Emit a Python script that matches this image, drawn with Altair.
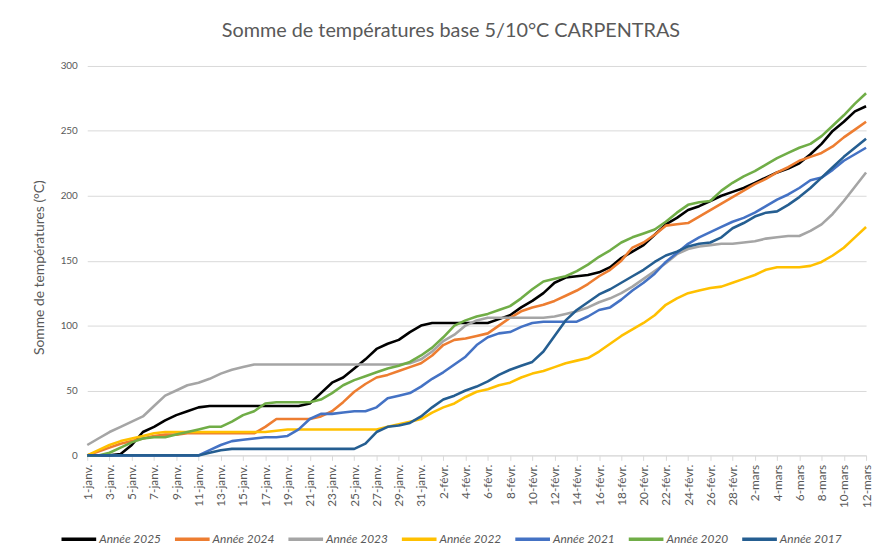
import altair as alt
import pandas as pd

# ---- data -------------------------------------------------------------
months = [("janv.", 31), ("févr.", 28), ("mars", 12)]
jours = [f"{d}-{m}" for m, n in months for d in range(1, n + 1)]
tick_labels = jours[::2]

annee_2025 = [0, 0, 0, 1, 8, 18, 22, 27, 31, 34, 37, 38, 38, 38, 38, 38, 38, 38, 38, 38,
              40, 48, 56, 60, 67, 74, 82, 86, 89, 95, 100, 102, 102, 102, 102, 102, 102, 105, 108, 114,
              119, 125, 133, 137, 138, 139, 141, 145, 152, 157, 162, 170, 178, 183, 189, 192, 196, 200, 203, 206,
              210, 214, 218, 221, 225, 232, 240, 250, 257, 265, 269]
annee_2024 = [0, 3, 6, 9, 11, 13, 15, 16, 16, 17, 17, 17, 17, 17, 17, 17, 22, 28, 28, 28,
              28, 30, 34, 41, 49, 55, 60, 62, 65, 68, 71, 77, 85, 89, 90, 92, 94, 100, 106, 111,
              114, 116, 119, 123, 127, 132, 138, 143, 150, 160, 164, 170, 177, 178, 179, 184, 189, 194, 199, 204,
              209, 213, 218, 222, 227, 230, 233, 238, 245, 251, 257]
annee_2023 = [8, 13, 18, 22, 26, 30, 38, 46, 50, 54, 56, 59, 63, 66, 68, 70, 70, 70, 70, 70,
              70, 70, 70, 70, 70, 70, 70, 70, 70, 71, 74, 80, 88, 93, 100, 104, 106, 106, 106, 106,
              106, 106, 107, 109, 111, 114, 118, 121, 125, 130, 136, 142, 148, 155, 159, 161, 162, 163, 163, 164,
              165, 167, 168, 169, 169, 173, 178, 186, 196, 207, 218]
annee_2022 = [0, 4, 8, 11, 13, 15, 17, 18, 18, 18, 18, 18, 18, 18, 18, 18, 18, 19, 20, 20,
              20, 20, 20, 20, 20, 20, 20, 22, 24, 26, 28, 33, 37, 40, 45, 49, 51, 54, 56, 60,
              63, 65, 68, 71, 73, 75, 80, 86, 92, 97, 102, 108, 116, 121, 125, 127, 129, 130, 133, 136,
              139, 143, 145, 145, 145, 146, 149, 154, 160, 168, 176]
annee_2021 = [0, 0, 0, 0, 0, 0, 0, 0, 0, 0, 0, 4, 8, 11, 12, 13, 14, 14, 15, 20,
              28, 32, 32, 33, 34, 34, 37, 44, 46, 48, 53, 59, 64, 70, 76, 85, 91, 94, 95, 99,
              102, 103, 103, 103, 103, 107, 112, 114, 120, 127, 133, 140, 149, 156, 163, 168, 172, 176, 180, 183,
              187, 192, 197, 201, 206, 212, 214, 220, 227, 232, 237]
annee_2020 = [0, 0, 2, 6, 10, 13, 14, 14, 16, 18, 20, 22, 22, 26, 31, 34, 40, 41, 41, 41,
              41, 43, 48, 54, 58, 61, 64, 67, 69, 72, 77, 83, 91, 100, 104, 107, 109, 112, 115, 121,
              128, 134, 136, 138, 142, 147, 153, 158, 164, 168, 171, 174, 180, 187, 193, 195, 196, 204, 210, 215,
              219, 224, 229, 233, 237, 240, 246, 254, 262, 271, 279]
annee_2017 = [0, 0, 0, 0, 0, 0, 0, 0, 0, 0, 0, 2, 4, 5, 5, 5, 5, 5, 5, 5,
              5, 5, 5, 5, 5, 9, 18, 22, 23, 25, 30, 37, 43, 46, 50, 53, 57, 62, 66, 69,
              72, 80, 92, 104, 112, 118, 124, 128, 133, 138, 143, 149, 154, 157, 161, 163, 164, 168, 175, 179,
              184, 187, 188, 193, 199, 206, 214, 222, 230, 237, 244]

series_names = ["Année 2025", "Année 2024", "Année 2023", "Année 2022",
                "Année 2021", "Année 2020", "Année 2017"]
series_values = [annee_2025, annee_2024, annee_2023, annee_2022,
                 annee_2021, annee_2020, annee_2017]
series_colors = ["#000000", "#ED7D31", "#A5A5A5", "#FFC000",
                 "#4472C4", "#70AD47", "#255E91"]

rows = []
for k, (name, vals) in enumerate(zip(series_names, series_values)):
    for i, (j, v) in enumerate(zip(jours, vals)):
        rows.append({"jour": j, "valeur": v, "serie": name, "ordre": k, "idx": i})
df = pd.DataFrame(rows)

FONT = "Lato"
GREY = "#595959"

chart = alt.Chart(df).mark_line(strokeWidth=2.6, strokeJoin="round").encode(
    x=alt.X("jour:O", sort=jours, title=None,
            scale=alt.Scale(padding=0),
            axis=alt.Axis(values=tick_labels, labelAngle=270, labelFontSize=12,
                          labelColor=GREY, labelFont=FONT, labelPadding=4,
                          domainColor="#D9D9D9", tickColor="#D9D9D9", tickSize=5,
                          grid=False, labelOverlap=False)),
    y=alt.Y("valeur:Q", scale=alt.Scale(domain=[0, 300], nice=False),
            title="Somme de températures (°C)",
            axis=alt.Axis(values=[0, 50, 100, 150, 200, 250, 300], labelFontSize=10,
                          labelColor=GREY, labelFont=FONT, labelPadding=10,
                          domain=False, ticks=False, gridColor="#D9D9D9", gridWidth=1,
                          titleFont=FONT, titleFontSize=14, titleFontWeight="normal",
                          titleColor=GREY, titleAngle=270, titleX=-48, titleY=203,
                          titleAlign="center", titleBaseline="middle")),
    color=alt.Color("serie:N", sort=series_names,
                    scale=alt.Scale(domain=series_names, range=series_colors),
                    legend=alt.Legend(title=None, orient="none", direction="horizontal",
                                      columns=7, legendX=-28, legendY=458,
                                      symbolType="stroke", symbolSize=1225,
                                      symbolStrokeWidth=3.5, labelOffset=1,
                                      labelFontSize=12, labelFont=FONT,
                                      labelFontStyle="italic", labelColor=GREY,
                                      columnPadding=6.5, gridAlign="all", padding=0)),
    order=alt.Order("ordre:Q"),
    detail="serie:N",
).properties(
    width=786, height=393,
    title=alt.TitleParams("Somme de températures base 5/10°C CARPENTRAS",
                          font=FONT, fontSize=20, fontWeight="normal",
                          color=GREY, anchor="middle", dx=-26, offset=20),
    autosize=alt.AutoSizeParams(type="none"),
    padding={"left": 80, "top": 56, "right": 7, "bottom": 96},
).configure_view(stroke=None)

chart.save("out.html", embed_options={"renderer": "svg", "actions": False})
